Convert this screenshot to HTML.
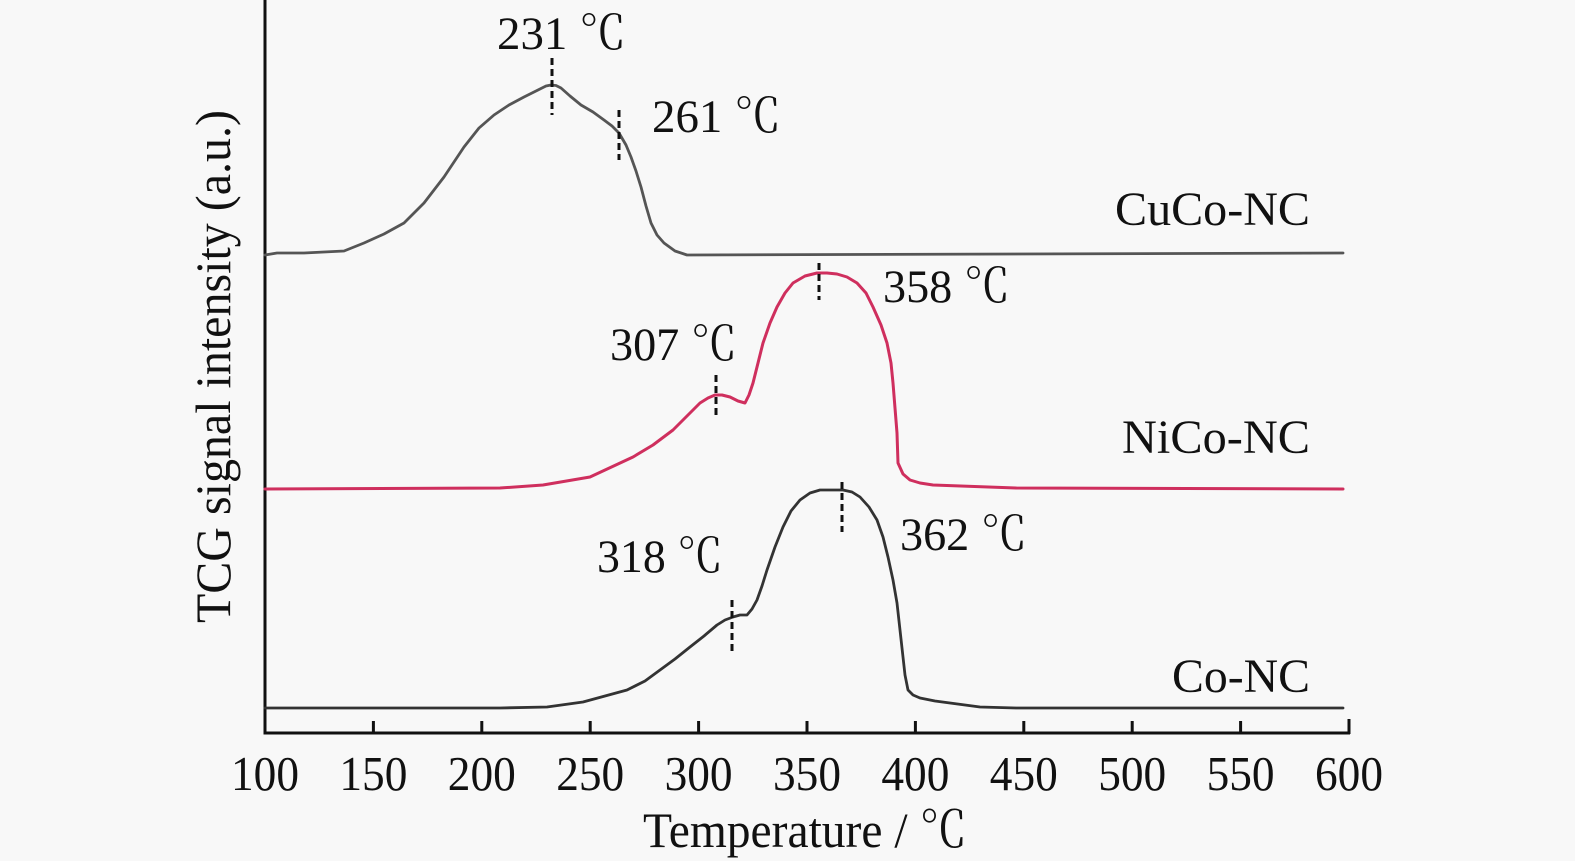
<!DOCTYPE html>
<html>
<head>
<meta charset="utf-8">
<style>
  html, body { margin:0; padding:0; background:#f8f8f8; }
  svg { display:block; }
  text { font-family: "Liberation Serif", "Noto Serif CJK SC", serif; fill:#111; }
</style>
</head>
<body>
<svg width="1575" height="861" viewBox="0 0 1575 861" xmlns="http://www.w3.org/2000/svg">
  <rect x="0" y="0" width="1575" height="861" fill="#f8f8f8"/>

  <!-- axes -->
  <g stroke="#111" stroke-width="3" fill="none">
    <line x1="265" y1="0" x2="265" y2="733"/>
    <line x1="263.5" y1="733" x2="1350" y2="733"/>
    <line x1="373.4" y1="733" x2="373.4" y2="721"/>
    <line x1="481.8" y1="733" x2="481.8" y2="721"/>
    <line x1="590.2" y1="733" x2="590.2" y2="721"/>
    <line x1="698.6" y1="733" x2="698.6" y2="721"/>
    <line x1="807.0" y1="733" x2="807.0" y2="721"/>
    <line x1="915.4" y1="733" x2="915.4" y2="721"/>
    <line x1="1023.8" y1="733" x2="1023.8" y2="721"/>
    <line x1="1132.2" y1="733" x2="1132.2" y2="721"/>
    <line x1="1240.6" y1="733" x2="1240.6" y2="721"/>
    <line x1="1349" y1="734" x2="1349" y2="719"/>
  </g>

  <!-- tick labels -->
  <g font-size="49" text-anchor="middle">
    <text x="265" y="790" textLength="68" lengthAdjust="spacingAndGlyphs">100</text>
    <text x="373.4" y="790" textLength="68" lengthAdjust="spacingAndGlyphs">150</text>
    <text x="481.8" y="790" textLength="68" lengthAdjust="spacingAndGlyphs">200</text>
    <text x="590.2" y="790" textLength="68" lengthAdjust="spacingAndGlyphs">250</text>
    <text x="698.6" y="790" textLength="68" lengthAdjust="spacingAndGlyphs">300</text>
    <text x="807.0" y="790" textLength="68" lengthAdjust="spacingAndGlyphs">350</text>
    <text x="915.4" y="790" textLength="68" lengthAdjust="spacingAndGlyphs">400</text>
    <text x="1023.8" y="790" textLength="68" lengthAdjust="spacingAndGlyphs">450</text>
    <text x="1132.2" y="790" textLength="68" lengthAdjust="spacingAndGlyphs">500</text>
    <text x="1240.6" y="790" textLength="68" lengthAdjust="spacingAndGlyphs">550</text>
    <text x="1349" y="790" textLength="68" lengthAdjust="spacingAndGlyphs">600</text>
  </g>

  <!-- axis titles -->
  <text x="643" y="847" font-size="50" textLength="324" lengthAdjust="spacingAndGlyphs">Temperature / ℃</text>
  <text transform="translate(230,366.5) rotate(-90)" font-size="50" text-anchor="middle" textLength="513" lengthAdjust="spacingAndGlyphs">TCG signal intensity (a.u.)</text>

  <!-- curves -->
  <polyline fill="none" stroke="#555" stroke-width="2.8" stroke-linejoin="round" stroke-linecap="round"
    points="265,255 277,253 304,253 344,251 364,243 384,234 404,223 424,203 444,177 464,147 479,128 494,115 509,105 524,97 538,90 546,86 551,85 556,85.5 561,88 570,96 581,105 593,112 604,120 612,126 619,133 626,145 631,157 636,171 641,187 646,206 651,223 657,235 664,243 675,251 687,255 1343,253"/>
  <polyline fill="none" stroke="#cf2f5e" stroke-width="3" stroke-linejoin="round" stroke-linecap="round"
    points="265,489 500,488 543,485 590,477 633,457 653,445 673,430 688,415 700,403 708,398 715,395 722,395 730,397 738,401 745,403 749,395 753,383 758,363 763,343 770,323 777,307 785,293 793,283 805,276 817,273 827,273 837,274 847,277 857,283 866,293 873,307 881,325 887,343 891,363 893,383 895,408 897,433 898,463 903,474 910,480 920,483 933,485 1016,488 1343,489"/>
  <polyline fill="none" stroke="#333" stroke-width="2.8" stroke-linejoin="round" stroke-linecap="round"
    points="265,708 500,708 547,707 583,702 627,690 645,681 660,670 675,659 690,647 704,636 717,625 725,620 733,617 740,615 747,615 752,609 757,600 762,586 767,570 775,547 783,527 791,511 800,500 810,493 820,490 843,490 852,492 860,497 869,507 877,520 883,537 888,557 893,580 897,603 900,630 903,657 905,675 908,690 913,695 920,698 935,701 950,703 980,707 1016,708 1343,708"/>

  <!-- dashed markers -->
  <g stroke="#111" stroke-width="3" stroke-dasharray="7,4" fill="none">
    <line x1="552" y1="58" x2="552" y2="115"/>
    <line x1="619" y1="110" x2="619" y2="160"/>
    <line x1="716" y1="375" x2="716" y2="415"/>
    <line x1="819" y1="263" x2="819" y2="300"/>
    <line x1="732" y1="600" x2="732" y2="652"/>
    <line x1="842" y1="482" x2="842" y2="532"/>
  </g>

  <!-- annotations -->
  <g font-size="47">
    <text x="497" y="49" textLength="129" lengthAdjust="spacingAndGlyphs">231 ℃</text>
    <text x="652" y="132" textLength="129" lengthAdjust="spacingAndGlyphs">261 ℃</text>
    <text x="610" y="360" textLength="127" lengthAdjust="spacingAndGlyphs">307 ℃</text>
    <text x="883" y="302" textLength="127" lengthAdjust="spacingAndGlyphs">358 ℃</text>
    <text x="597" y="572" textLength="126" lengthAdjust="spacingAndGlyphs">318 ℃</text>
    <text x="900" y="550" textLength="127" lengthAdjust="spacingAndGlyphs">362 ℃</text>
  </g>

  <!-- series labels -->
  <g font-size="48">
    <text x="1115" y="225" textLength="195" lengthAdjust="spacingAndGlyphs">CuCo-NC</text>
    <text x="1122" y="453" textLength="188" lengthAdjust="spacingAndGlyphs">NiCo-NC</text>
    <text x="1172" y="692" textLength="138" lengthAdjust="spacingAndGlyphs">Co-NC</text>
  </g>
</svg>
</body>
</html>
